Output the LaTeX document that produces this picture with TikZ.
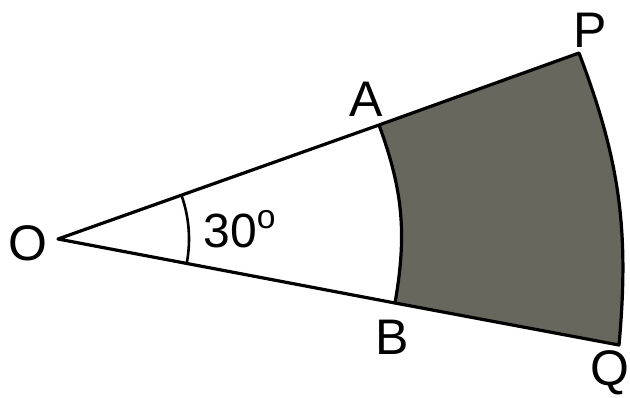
\documentclass[tikz,border=0pt]{standalone}
\usepackage{fontspec}
\setmainfont{Liberation Sans}
\usetikzlibrary{calc}
\begin{document}
\begin{tikzpicture}[x=0.5pt,y=0.5pt,
  edge/.style={line width=1.6pt, line join=round},
  lbl/.style={inner sep=0pt, font=\fontsize{25}{28}\selectfont},
  shade/.style={fill={rgb,255:red,104;green,103;blue,94}}]
\useasboundingbox (0,0) rectangle (630,397);
\coordinate (O) at (58,158);
\coordinate (A) at (379,272);
\coordinate (P) at (579,344);
\coordinate (B) at (395,94);
\coordinate (Q) at (619,52);
% shaded region
\fill[shade] (A) -- (P) to[bend left=13] (Q) -- (B) to[bend right=15] (A) -- cycle;
\draw[edge] (A) -- (P) to[bend left=13] (Q) -- (B) to[bend right=15] (A);
\draw[edge] (A) -- (O) -- (B);
% angle mark
\draw[line width=1.3pt] ($(O)+(-10.6:65.5pt)$) arc[start angle=-10.6, end angle=19.6, radius=65.5pt];
% labels
\node[lbl] (lO) at (28,154) {O};
\node[lbl] (lA) at (366,298) {A};
\node[lbl] (lP) at (590,367) {P};
\node[lbl] (lB) at (392,60) {B};
\node[lbl] (lQ) at (610,24) {Q};
\node[lbl, anchor=base west, font=\fontsize{24}{27}\selectfont] (ang) at (203,150) {30\textsuperscript{o}};
\end{tikzpicture}
\end{document}
